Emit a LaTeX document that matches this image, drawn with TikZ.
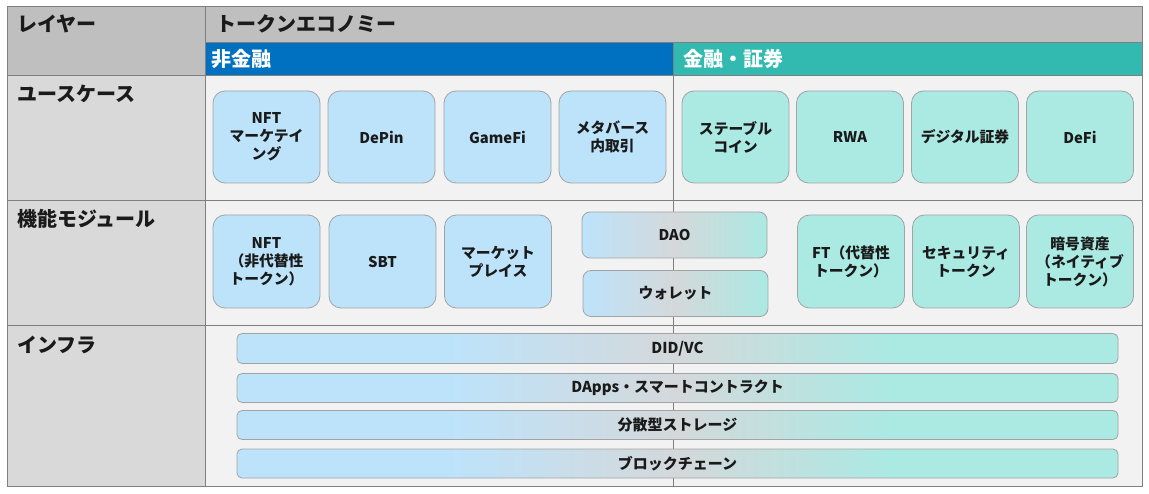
\documentclass[tikz,border=0pt]{standalone}
\usepackage{fontspec}
\setmainfont{Noto Sans CJK JP}
\definecolor{hdrgray}{HTML}{BFBFBF}
\definecolor{leftgray}{HTML}{D9D9D9}
\definecolor{cellgray}{HTML}{F2F2F2}
\definecolor{linegray}{HTML}{7F7F7F}
\definecolor{nfblue}{HTML}{0070C0}
\definecolor{finteal}{HTML}{32BAB1}
\definecolor{boxblue}{HTML}{BDE3FB}
\definecolor{boxteal}{HTML}{ABE9E3}
\definecolor{midgray}{HTML}{D4D8DA}
\definecolor{boxline}{HTML}{A3A3A3}
\definecolor{txt}{HTML}{1A1A1A}
\pgfdeclarehorizontalshading{bargrad}{100bp}{color(0bp)=(boxblue); color(37bp)=(boxblue); color(50bp)=(midgray); color(62bp)=(boxteal); color(100bp)=(boxteal)}
\tikzset{
  gridline/.style={draw=linegray, line width=0.9pt},
  title/.style={anchor=west, inner sep=0pt, font=\bfseries\fontsize{20}{23}\selectfont, text=txt},
  hdrtitle/.style={anchor=west, inner sep=0pt, font=\bfseries\fontsize{20}{23}\selectfont, text=white},
  cardbox/.style={draw=boxline, line width=0.8pt, rounded corners=12pt, minimum width=107pt, minimum height=92pt, inner sep=2pt, align=center, text=txt, font=\bfseries\fontsize{14.8}{18}\selectfont},
  bluebox/.style={cardbox, fill=boxblue},
  tealbox/.style={cardbox, fill=boxteal},
  midbox/.style={draw=boxline, line width=0.8pt, rounded corners=8pt, minimum width=185pt, minimum height=46pt, align=center, text=txt, font=\bfseries\fontsize{14.8}{18}\selectfont, left color=boxblue, right color=boxteal, middle color=midgray},
  barbox/.style={draw=boxline, line width=0.8pt, rounded corners=5pt, minimum width=881pt, minimum height=29pt, inner sep=0pt, align=center, text=txt, font=\bfseries\fontsize{15}{18}\selectfont, shading=bargrad}
}
\begin{document}
\begin{tikzpicture}[x=1pt,y=-1pt]
\useasboundingbox (0,0) rectangle (1149,494);
% backgrounds
\fill[hdrgray] (7,6) rectangle (1142,42);
\fill[hdrgray] (7,42) rectangle (205,75);
\fill[nfblue] (205,42) rectangle (673,75);
\fill[finteal] (673,42) rectangle (1142,75);
\fill[leftgray] (7,75) rectangle (205,486);
\fill[cellgray] (205,75) rectangle (1142,486);
% grid
\draw[gridline] (205,6) -- (205,486);
\draw[gridline] (205,42) -- (1142,42);
\draw[gridline] (7,75) -- (1142,75);
\draw[gridline] (7,200) -- (1142,200);
\draw[gridline] (7,325) -- (1142,325);
\draw[gridline] (673,42) -- (673,486);
\draw[gridline] (7,6) rectangle (1142,486);
% titles
\node[title] (tlayer) at (17,24) {レイヤー};
\node[title] (ttoken) at (216,24) {トークンエコノミー};
\node[hdrtitle] (tnonfin) at (211,59) {非金融};
\node[hdrtitle] (tfin) at (683,59) {金融・証券};
\node[title] (tuse) at (17,94) {ユースケース};
\node[title] (tfunc) at (17,219) {機能モジュール};
\node[title] (tinfra) at (17,345) {インフラ};
% use cases
\node[bluebox] (u1) at (266.5,137) {NFT\\マーケテイ\\ング};
\node[bluebox] (u2) at (381.5,137) {DePin};
\node[bluebox] (u3) at (497.5,137) {GameFi};
\node[bluebox] (u4) at (612.5,137) {メタバース\\内取引};
\node[tealbox] (u5) at (735.5,137) {ステーブル\\コイン};
\node[tealbox] (u6) at (850,137) {RWA};
\node[tealbox] (u7) at (965,137) {デジタル証券};
\node[tealbox] (u8) at (1080,137) {DeFi};
% function modules
\node[bluebox, minimum height=93pt] (f1) at (266.5,261.5) {NFT\\（非代替性\\トークン）};
\node[bluebox, minimum height=93pt] (f2) at (382.5,261.5) {SBT};
\node[bluebox, minimum height=93pt] (f3) at (498,261.5) {マーケット\\プレイス};
\node[midbox] (f4) at (674.5,235) {DAO};
\node[midbox] (f5) at (675.5,293.5) {ウォレット};
\node[tealbox, minimum height=93pt] (f6) at (851,261.5) {FT（代替性\\トークン）};
\node[tealbox, minimum height=93pt] (f7) at (966,261.5) {セキュリティ\\トークン};
\node[tealbox, minimum height=93pt] (f8) at (1080,261.5) {暗号資産\\（ネイティブ\\トークン）};
% infrastructure
\node[barbox, minimum height=30pt] (i1) at (677.5,348.5) {DID/VC};
\node[barbox] (i2) at (677.5,388) {DApps・スマートコントラクト};
\node[barbox] (i3) at (677.5,425) {分散型ストレージ};
\node[barbox] (i4) at (677.5,463.5) {ブロックチェーン};
\end{tikzpicture}
\end{document}
